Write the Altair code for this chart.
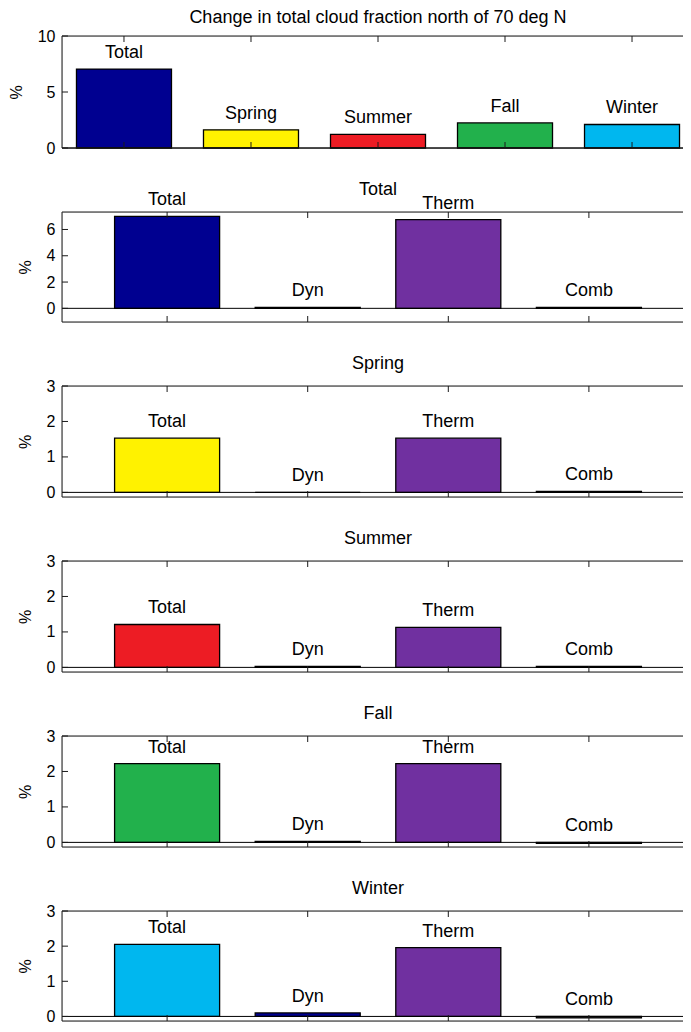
import altair as alt
import pandas as pd

FONT = "Liberation Sans"
FR = "#1a1a1a"
W = 632

# ---- data ----
seasons = ["Total", "Spring", "Summer", "Fall", "Winter"]
season_change = [7.05, 1.62, 1.22, 2.24, 2.10]
season_colors = ["#000090", "#FFF200", "#ED1C24", "#22B14C", "#00B7EF"]

components = ["Total", "Dyn", "Therm", "Comb"]
comp_total = [7.00, 0.07, 6.75, 0.07]
comp_spring = [1.53, 0.00, 1.53, 0.03]
comp_summer = [1.21, 0.03, 1.13, 0.03]
comp_fall = [2.22, 0.03, 2.22, -0.03]
comp_winter = [2.05, 0.10, 1.96, -0.04]
dyn_color = "#000090"
therm_color = "#7030A0"
comb_color = "#000000"

panel_titles = ["Change in total cloud fraction north of 70 deg N",
                "Total", "Spring", "Summer", "Fall", "Winter"]
ticks_main = [0, 5, 10]
ticks_total = [0, 2, 4, 6]
ticks_season = [0, 1, 2, 3]
domain_main = [0, 10]
domain_total = [-1.04, 7.33]
domain_season = [-0.13, 3]


def panel(title, cats, vals, colors, domain, ticks, height, p_in, p_out,
          title_dy, title_pad):
    df = pd.DataFrame({"cat": cats, "val": vals, "col": colors})
    one = pd.DataFrame({"z": [0], "t": [title]})
    tdf = pd.DataFrame({"tk": ticks})
    xs = alt.Scale(domain=cats, paddingInner=p_in, paddingOuter=p_out)
    ys = alt.Scale(domain=domain, nice=False, zero=False)
    yax = alt.Axis(values=ticks, ticks=False, domain=False, grid=False,
                   title="%", labelPadding=7, titlePadding=title_pad,
                   labelFontSize=16, titleFontSize=16, labelColor="black",
                   titleColor="black", titleFontWeight="normal",
                   labelFont=FONT, titleFont=FONT)
    X = alt.X("cat:N", scale=xs, axis=None)

    bars = alt.Chart(df).mark_bar(stroke="black", strokeWidth=1.3).encode(
        x=X,
        y=alt.Y("val:Q", scale=ys, axis=yax),
        y2=alt.Y2("z:Q"),
        color=alt.Color("col:N", scale=None),
    ).transform_calculate(z="0")

    zero = alt.Chart(one).mark_rule(color="black", strokeWidth=1).encode(
        y=alt.Y("z:Q", scale=ys, axis=yax), x=alt.value(0), x2=alt.value(W))

    lt = alt.Chart(tdf).mark_rule(color=FR).encode(
        y=alt.Y("tk:Q", scale=ys, axis=yax), x=alt.value(0), x2=alt.value(6))
    rt = alt.Chart(tdf).mark_rule(color=FR).encode(
        y=alt.Y("tk:Q", scale=ys, axis=yax), x=alt.value(W - 6), x2=alt.value(W))

    xt_top = alt.Chart(df).mark_rule(color=FR).encode(
        x=X, y=alt.value(0), y2=alt.value(6))
    xt_bot = alt.Chart(df).mark_rule(color=FR).encode(
        x=X, y=alt.value(height - 6), y2=alt.value(height))

    f_top = alt.Chart(one).mark_rule(color=FR).encode(
        x=alt.value(0), x2=alt.value(W), y=alt.value(0))
    f_bot = alt.Chart(one).mark_rule(color=FR).encode(
        x=alt.value(0), x2=alt.value(W), y=alt.value(height))
    f_left = alt.Chart(one).mark_rule(color=FR).encode(
        x=alt.value(0), y=alt.value(0), y2=alt.value(height))

    labels = alt.Chart(df).transform_calculate(
        ly="max(datum.val, 0)"
    ).mark_text(fontSize=18, font=FONT, dy=-16, baseline="middle",
                color="black").encode(
        x=X, y=alt.Y("ly:Q", scale=ys, axis=yax), text="cat:N")

    ttl = alt.Chart(one).mark_text(fontSize=18, font=FONT, baseline="middle",
                                   color="black").encode(
        x=alt.value(W / 2), y=alt.value(title_dy), text="t:N")

    return alt.layer(bars, zero, lt, rt, xt_top, xt_bot, f_top, f_bot,
                     f_left, labels, ttl).properties(width=W, height=height)


def comp_colors(total_color):
    return [total_color, dyn_color, therm_color, comb_color]


p1 = panel(panel_titles[0], seasons, season_change, season_colors,
           domain_main, ticks_main, 112, 0.252, 0.114, -18, 13)
p2 = panel(panel_titles[1], components, comp_total, comp_colors(season_colors[0]),
           domain_total, ticks_total, 110, 0.253, 0.374, -22, 13)
p3 = panel(panel_titles[2], components, comp_spring, comp_colors(season_colors[1]),
           domain_season, ticks_season, 111, 0.253, 0.374, -22, 13)
p4 = panel(panel_titles[3], components, comp_summer, comp_colors(season_colors[2]),
           domain_season, ticks_season, 111, 0.253, 0.374, -22, 13)
p5 = panel(panel_titles[4], components, comp_fall, comp_colors(season_colors[3]),
           domain_season, ticks_season, 111, 0.253, 0.374, -22, 13)
p6 = panel(panel_titles[5], components, comp_winter, comp_colors(season_colors[4]),
           domain_season, ticks_season, 110, 0.253, 0.374, -22, 13)

chart = alt.vconcat(p1, p2, p3, p4, p5, p6, spacing=64.0, bounds="flush").properties(
    padding={"left": -1, "top": 0, "right": -12, "bottom": 0}
).configure_view(stroke=None).configure(background="white")

chart.save("out.html", embed_options={"renderer": "svg", "actions": False})
